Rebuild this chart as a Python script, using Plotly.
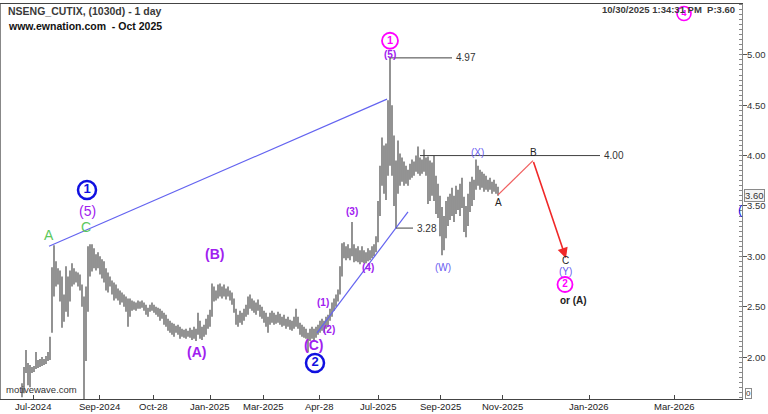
import plotly.graph_objects as go

# ---------------- data ----------------
# daily bars, one entry per bar (index = bar number on the time axis)
highs = [1.74, 1.90, 2.07, 1.94, 1.92, 1.90, 1.91, 2.05, 1.97, 1.98,
         2.00, 1.98, 2.01, 2.05, 2.20, 2.89, 3.11, 2.95, 2.88, 2.86,
         2.80, 2.62, 2.90, 2.80, 2.86, 2.93, 2.88, 2.85, 2.84, 2.82,
         2.72, 2.60, 2.70, 3.10, 3.12, 3.12, 3.08, 3.02, 3.04, 3.00,
         2.97, 2.95, 2.88, 2.84, 2.80, 2.76, 2.74, 2.72, 2.68, 2.66,
         2.64, 2.62, 2.60, 2.58, 2.58, 2.56, 2.55, 2.54, 2.56, 2.55,
         2.56, 2.54, 2.52, 2.49, 2.52, 2.54, 2.52, 2.50, 2.49, 2.48,
         2.46, 2.44, 2.42, 2.38, 2.36, 2.34, 2.33, 2.31, 2.32, 2.30,
         2.28, 2.27, 2.28, 2.26, 2.29, 2.27, 2.30, 2.28, 2.44, 2.36,
         2.30, 2.32, 2.38, 2.42, 2.47, 2.73, 2.70, 2.66, 2.72, 2.73,
         2.70, 2.72, 2.68, 2.70, 2.66, 2.64, 2.58, 2.48, 2.42, 2.46,
         2.44, 2.48, 2.52, 2.60, 2.62, 2.58, 2.56, 2.54, 2.57, 2.52,
         2.50, 2.46, 2.44, 2.40, 2.44, 2.46, 2.44, 2.42, 2.45, 2.43,
         2.40, 2.42, 2.38, 2.40, 2.37, 2.36, 2.40, 2.48, 2.40, 2.34,
         2.32, 2.30, 2.28, 2.24, 2.28, 2.30, 2.28, 2.30, 2.32, 2.36,
         2.38, 2.36, 2.40, 2.42, 2.48, 2.54, 2.58, 2.62, 2.67, 2.90,
         3.13, 3.14, 3.10, 3.12, 3.08, 3.34, 3.12, 3.08, 3.10, 3.06,
         3.10, 3.06, 3.04, 3.08, 3.06, 3.10, 3.12, 3.20, 3.55, 3.90,
         4.18, 4.10, 4.12, 4.55, 4.97, 4.50, 4.20, 3.95, 4.15, 4.02,
         3.98, 3.94, 3.90, 3.86, 3.92, 3.96, 3.94, 4.00, 4.09, 3.98,
         3.96, 4.06, 3.98, 3.99, 3.95, 3.93, 4.00, 3.80, 3.72, 3.60,
         3.49, 3.40, 3.55, 3.59, 3.62, 3.68, 3.60, 3.70, 3.66, 3.72,
         3.78, 3.59, 3.50, 3.62, 3.74, 3.79, 3.76, 3.96, 3.90, 3.86,
         3.84, 3.82, 3.80, 3.76, 3.78, 3.74, 3.76, 3.72, 3.69]
lows = [1.60, 1.64, 1.84, 1.72, 1.70, 1.84, 1.85, 1.88, 1.89, 1.90,
        1.91, 1.92, 1.93, 1.96, 1.97, 2.24, 2.60, 2.70, 2.72, 2.55,
        2.29, 2.35, 2.45, 2.40, 2.55, 2.70, 2.72, 2.74, 2.70, 2.66,
        2.50, 1.58, 1.96, 2.45, 2.80, 2.85, 2.88, 2.86, 2.88, 2.82,
        2.78, 2.74, 2.66, 2.64, 2.70, 2.62, 2.56, 2.58, 2.56, 2.52,
        2.54, 2.50, 2.45, 2.30, 2.40, 2.46, 2.47, 2.46, 2.48, 2.48,
        2.49, 2.46, 2.42, 2.40, 2.45, 2.46, 2.44, 2.42, 2.40, 2.36,
        2.38, 2.32, 2.30, 2.26, 2.24, 2.22, 2.20, 2.24, 2.22, 2.18,
        2.20, 2.19, 2.18, 2.20, 2.19, 2.17, 2.18, 2.16, 2.22, 2.18,
        2.17, 2.20, 2.22, 2.28, 2.30, 2.40, 2.55, 2.56, 2.58, 2.60,
        2.58, 2.60, 2.57, 2.60, 2.56, 2.52, 2.44, 2.32, 2.30, 2.34,
        2.32, 2.36, 2.40, 2.42, 2.48, 2.46, 2.44, 2.42, 2.46, 2.40,
        2.38, 2.34, 2.30, 2.24, 2.32, 2.34, 2.32, 2.33, 2.34, 2.32,
        2.30, 2.31, 2.28, 2.30, 2.27, 2.26, 2.28, 2.30, 2.28, 2.22,
        2.20, 2.19, 2.18, 2.05, 2.16, 2.18, 2.17, 2.19, 2.22, 2.24,
        2.26, 2.24, 2.28, 2.30, 2.36, 2.40, 2.46, 2.50, 2.55, 2.62,
        2.80, 2.98, 2.96, 2.98, 2.96, 3.00, 2.94, 2.95, 2.94, 2.92,
        2.94, 2.93, 2.93, 2.95, 2.96, 2.98, 3.00, 3.04, 3.14, 3.40,
        3.70, 3.62, 3.56, 3.80, 3.90, 3.80, 3.50, 3.28, 3.62, 3.70,
        3.74, 3.70, 3.72, 3.70, 3.76, 3.78, 3.80, 3.84, 3.82, 3.80,
        3.82, 3.84, 3.80, 3.52, 3.55, 3.60, 3.55, 3.42, 3.38, 3.20,
        3.01, 3.06, 3.18, 3.30, 3.36, 3.40, 3.34, 3.42, 3.46, 3.40,
        3.48, 3.24, 3.19, 3.30, 3.44, 3.50, 3.56, 3.66, 3.70, 3.66,
        3.68, 3.64, 3.66, 3.64, 3.66, 3.62, 3.64, 3.62, 3.60]

# time axis labels (bar index where each month label sits)
tick_idx = [5.5, 38.5, 65.5, 94, 120.5, 148.5, 178, 209, 240, 283.5, 326]
tick_labels = ["Jul-2024", "Sep-2024", "Oct-28", "Jan-2025", "Mar-2025", "Apr-28",
               "Jul-2025", "Sep-2025", "Nov-2025", "Jan-2026", "Mar-2026"]

price_ticks = [2.0, 2.5, 3.0, 3.5, 4.0, 4.5, 5.0]
last_price = 3.60

# projected path A -> B -> C
proj_x = [238, 255.5, 272]
proj_y = [3.61, 3.95, 2.98]

# trend channel lines
trend1_x = [13.5, 182.5]
trend1_y = [3.10, 4.56]
trend2_x = [147.5, 193]
trend2_y = [2.24, 3.44]

# horizontal price levels: value, start bar, end bar
level_vals = [4.97, 3.28, 4.00]
level_x0 = [184, 187, 199]
level_x1 = [215, 195.5, 289]

# wave labels: text, bar, price, colour, size, bold
PURPLE = "#a020f0"
GREEN = "#5cc85c"
LAV = "#6a5cf0"
labels = [
    ("(5)", 32.5, 3.45, PURPLE, 14, False),
    ("C", 32, 3.29, GREEN, 14, False),
    ("A", 13.5, 3.21, GREEN, 14, False),
    ("(B)", 96, 3.02, PURPLE, 14, True),
    ("(A)", 87, 2.05, PURPLE, 14, True),
    ("(C)", 145.5, 2.12, PURPLE, 14, True),
    ("(1)", 150.5, 2.54, PURPLE, 10, True),
    ("(2)", 153.5, 2.27, PURPLE, 10, True),
    ("(3)", 165, 3.44, PURPLE, 10, True),
    ("(4)", 173, 2.89, PURPLE, 10, True),
    ("(5)", 184, 5.00, PURPLE, 10, True),
    ("(X)", 227.5, 4.03, LAV, 10, False),
    ("(W)", 210.5, 2.89, LAV, 10, False),
    ("A", 238, 3.53, "#222222", 10, False),
    ("B", 255.5, 4.03, "#222222", 10, False),
    ("C", 271.5, 2.96, "#222222", 10, False),
    ("(Y)", 271.5, 2.845, LAV, 10, False),
    ("or (A)", 275.5, 2.566, "#222222", 10, True),
    ("(", 359, 3.46, "#1010e0", 13, False),
]

# circled degree labels: digit, bar, price, colour, diameter, ring width
circles = [
    ("1", 32.5, 3.658, "#1010e0", 18, 2.5),
    ("2", 146.5, 1.94, "#1010e0", 18, 2.5),
    ("1", 184, 5.14, "#ff00ff", 16, 1.8),
    ("2", 271.5, 2.72, "#ff00ff", 15, 1.8),
    ("4", 331, 5.41, "#ff00ff", 14, 1.6),
]

# ---------------- figure ----------------
FONT = "Liberation Sans, Arial, sans-serif"
fig = go.Figure()

# price bars (high-low)
bx, by = [], []
for i, (h, l) in enumerate(zip(highs, lows)):
    bx += [i, i, None]
    by += [l, h, None]
fig.add_trace(go.Scatter(x=bx, y=by, mode="lines",
                         line=dict(color="#585858", width=1.3),
                         hoverinfo="skip", showlegend=False))

# trend lines
for tx, ty in [(trend1_x, trend1_y), (trend2_x, trend2_y)]:
    fig.add_trace(go.Scatter(x=tx, y=ty, mode="lines",
                             line=dict(color="#6464f0", width=1.2),
                             hoverinfo="skip", showlegend=False))

# horizontal levels
for v, x0, x1 in zip(level_vals, level_x0, level_x1):
    fig.add_trace(go.Scatter(x=[x0, x1], y=[v, v], mode="lines",
                             line=dict(color="#404040", width=1),
                             hoverinfo="skip", showlegend=False))
    fig.add_annotation(x=x1, y=v, text=f"{v:.2f}", showarrow=False,
                       xanchor="left", xshift=2, yanchor="middle",
                       font=dict(family=FONT, size=10, color="#333333"))

# projection A -> B
fig.add_trace(go.Scatter(x=proj_x[:2], y=proj_y[:2], mode="lines",
                         line=dict(color="#f06060", width=1.3),
                         hoverinfo="skip", showlegend=False))
# projection B -> C with arrow
fig.add_annotation(x=proj_x[2], y=proj_y[2], ax=proj_x[1], ay=proj_y[1],
                   xref="x", yref="y", axref="x", ayref="y",
                   showarrow=True, arrowhead=2, arrowsize=1.3, arrowwidth=1.6,
                   arrowcolor="#f02828", text="")

# wave labels
for t, x, y, c, s, b in labels:
    fig.add_annotation(x=x, y=y, text=f"<b>{t}</b>" if b else t, showarrow=False,
                       xanchor="center", yanchor="middle", borderpad=0,
                       font=dict(family=FONT, size=s, color=c))

# circled labels
for d, x, y, c, dia, w in circles:
    fig.add_trace(go.Scatter(x=[x], y=[y], mode="markers+text",
                             marker=dict(symbol="circle", size=dia, color="rgba(255,255,255,0)",
                                         line=dict(color=c, width=w)),
                             text=[f"<b>{d}</b>"], textposition="middle center",
                             textfont=dict(family=FONT, size=dia - 5, color=c),
                             hoverinfo="skip", showlegend=False, cliponaxis=False))

# axis tick labels (drawn as annotations so they sit tight to the axes)
for v, t in zip(tick_idx, tick_labels):
    fig.add_annotation(x=v, y=0, xref="x", yref="paper", text=t, showarrow=False,
                       xanchor="center", yanchor="top", yshift=-1, borderpad=0,
                       font=dict(family=FONT, size=9.5, color="#222222"))
for v in price_ticks:
    fig.add_annotation(x=1, y=v, xref="paper", yref="y", text=f"{v:.2f}",
                       showarrow=False, xanchor="left", yanchor="middle",
                       xshift=4, borderpad=0,
                       font=dict(family=FONT, size=9.5, color="#333333"))

# header texts
fig.add_annotation(xref="paper", yref="paper", x=0.007, y=0.982,
                   text="<b>NSENG_CUTIX, (1030d) - 1 day</b>", showarrow=False,
                   xanchor="left", yanchor="middle",
                   font=dict(family=FONT, size=10.5, color="#3a3a3a"))
fig.add_annotation(xref="paper", yref="paper", x=0.007, y=0.944,
                   text="<b>www.ewnation.com  - Oct 2025</b>", showarrow=False,
                   xanchor="left", yanchor="middle",
                   font=dict(family=FONT, size=10.5, color="#111111"))
fig.add_annotation(xref="paper", yref="paper", x=0.993, y=0.985,
                   text="<b>10/30/2025 1:34:31 PM  P:3.60</b>", showarrow=False,
                   xanchor="right", yanchor="middle",
                   font=dict(family=FONT, size=9.5, color="#3a3a3a"))
fig.add_annotation(xref="paper", yref="paper", x=0.004, y=0.025,
                   text="motivewave.com", showarrow=False,
                   xanchor="left", yanchor="middle",
                   font=dict(family=FONT, size=9.5, color="#333333"))

# last price tag on axis
fig.add_annotation(xref="paper", yref="y", x=1, y=last_price, xshift=2,
                   text=f"{last_price:.2f}", showarrow=False,
                   xanchor="left", yanchor="middle",
                   bordercolor="#8a8a8a", borderwidth=1, borderpad=0,
                   bgcolor="#f4f4f4",
                   font=dict(family=FONT, size=9.5, color="#333333"))
fig.add_annotation(xref="paper", yref="paper", x=1, y=0.015, xshift=3,
                   text="0", showarrow=False, xanchor="left", yanchor="middle",
                   bordercolor="#8a8a8a", borderwidth=1, borderpad=0,
                   bgcolor="#ffffff",
                   font=dict(family=FONT, size=8, color="#333333"))

fig.update_layout(
    width=768, height=414,
    margin=dict(l=1, r=26, t=4, b=15, autoexpand=False),
    paper_bgcolor="white", plot_bgcolor="white",
    showlegend=False,
    xaxis=dict(range=[-10.5, 360], tickmode="array", tickvals=tick_idx,
               ticks="inside", ticklen=4, tickcolor="#444", showticklabels=False,
               automargin=False,
               showgrid=False, zeroline=False, showline=True, linecolor="#444",
               linewidth=1, mirror=True),
    yaxis=dict(range=[1.583, 5.505], side="right", tickmode="array",
               tickvals=price_ticks, showticklabels=False, automargin=False,
               ticks="outside", ticklen=4, tickcolor="#555",
               minor=dict(tickmode="linear", tick0=0, dtick=0.05, ticks="inside",
                          ticklen=3, tickcolor="#888", showgrid=False),
               showgrid=False, zeroline=False, showline=True, linecolor="#888",
               linewidth=1, mirror=True),
)

# remove the page's default body margin so the 768x414 figure fills the window
fig.write_html("out.html", config={"displayModeBar": False},
               post_script="document.body.style.margin='0';document.body.style.overflow='hidden';")
